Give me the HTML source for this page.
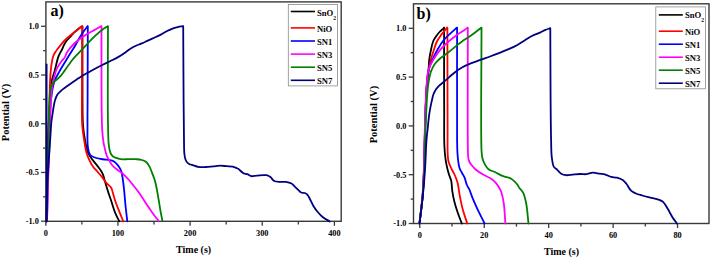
<!DOCTYPE html>
<html><head><meta charset="utf-8"><style>
html,body{margin:0;padding:0;background:#fff;}
body{width:711px;height:260px;overflow:hidden;}
svg{display:block;}
text{font-family:"Liberation Serif",serif;font-weight:bold;fill:#000;}
.tk{font-size:8.3px;}
.lg{font-size:8.6px;}
.ax{font-size:10px;}
.ay{font-size:10.5px;}
.pl{font-size:16px;}
</style></head><body>
<svg width="711" height="260" viewBox="0 0 711 260">
<rect width="711" height="260" fill="#fff"/>
<line x1="45.8" y1="221.3" x2="45.8" y2="225.8" stroke="#3a3a3a" stroke-width="1.3"/>
<line x1="117.95" y1="221.3" x2="117.95" y2="225.8" stroke="#3a3a3a" stroke-width="1.3"/>
<line x1="190.10000000000002" y1="221.3" x2="190.10000000000002" y2="225.8" stroke="#3a3a3a" stroke-width="1.3"/>
<line x1="262.25" y1="221.3" x2="262.25" y2="225.8" stroke="#3a3a3a" stroke-width="1.3"/>
<line x1="334.40000000000003" y1="221.3" x2="334.40000000000003" y2="225.8" stroke="#3a3a3a" stroke-width="1.3"/>
<line x1="81.875" y1="221.3" x2="81.875" y2="224.4" stroke="#3a3a3a" stroke-width="1.3"/>
<line x1="154.025" y1="221.3" x2="154.025" y2="224.4" stroke="#3a3a3a" stroke-width="1.3"/>
<line x1="226.175" y1="221.3" x2="226.175" y2="224.4" stroke="#3a3a3a" stroke-width="1.3"/>
<line x1="298.325" y1="221.3" x2="298.325" y2="224.4" stroke="#3a3a3a" stroke-width="1.3"/>
<line x1="41.1" y1="26.299999999999997" x2="45.9" y2="26.299999999999997" stroke="#3a3a3a" stroke-width="1.3"/>
<line x1="41.1" y1="75.025" x2="45.9" y2="75.025" stroke="#3a3a3a" stroke-width="1.3"/>
<line x1="41.1" y1="123.75" x2="45.9" y2="123.75" stroke="#3a3a3a" stroke-width="1.3"/>
<line x1="41.1" y1="172.475" x2="45.9" y2="172.475" stroke="#3a3a3a" stroke-width="1.3"/>
<line x1="41.1" y1="221.2" x2="45.9" y2="221.2" stroke="#3a3a3a" stroke-width="1.3"/>
<line x1="43.1" y1="50.662499999999994" x2="45.9" y2="50.662499999999994" stroke="#3a3a3a" stroke-width="1.3"/>
<line x1="43.1" y1="99.3875" x2="45.9" y2="99.3875" stroke="#3a3a3a" stroke-width="1.3"/>
<line x1="43.1" y1="148.1125" x2="45.9" y2="148.1125" stroke="#3a3a3a" stroke-width="1.3"/>
<line x1="43.1" y1="196.8375" x2="45.9" y2="196.8375" stroke="#3a3a3a" stroke-width="1.3"/>
<text x="45.8" y="235.8" text-anchor="middle" class="tk">0</text>
<text x="117.95" y="235.8" text-anchor="middle" class="tk">100</text>
<text x="190.10000000000002" y="235.8" text-anchor="middle" class="tk">200</text>
<text x="262.25" y="235.8" text-anchor="middle" class="tk">300</text>
<text x="334.40000000000003" y="235.8" text-anchor="middle" class="tk">400</text>
<text x="38.8" y="29.099999999999998" text-anchor="end" class="tk">1.0</text>
<text x="38.8" y="77.825" text-anchor="end" class="tk">0.5</text>
<text x="38.8" y="126.55" text-anchor="end" class="tk">0.0</text>
<text x="38.8" y="175.275" text-anchor="end" class="tk">-0.5</text>
<text x="38.8" y="224.0" text-anchor="end" class="tk">-1.0</text>
<rect x="45.9" y="1.9" width="295.3" height="219.4" fill="none" stroke="#3a3a3a" stroke-width="1.4"/>
<path d="M46.50,221.30 C46.67,207.53 46.75,193.66 47.00,180.00 C47.25,166.56 47.54,152.37 48.00,140.00 C48.40,129.28 49.02,118.28 49.50,110.00 C49.84,104.14 50.12,99.89 50.50,95.00 C50.86,90.30 50.91,85.48 51.70,81.20 C52.41,77.34 53.77,74.20 54.80,70.40 C55.94,66.21 57.05,60.35 58.20,57.10 C58.90,55.13 59.62,53.79 60.30,52.50 C60.81,51.52 61.28,51.00 61.80,50.00 C62.51,48.64 63.12,46.63 64.00,45.00 C64.91,43.30 66.05,41.46 67.20,40.00 C68.23,38.70 69.40,37.78 70.50,36.60 C71.66,35.36 72.75,33.93 74.00,32.70 C75.25,31.46 76.66,30.26 78.00,29.20 C79.26,28.21 80.53,27.40 81.80,26.50 M81.80,26.50 C82.03,26.50 82.27,26.50 82.50,26.50 M82.50,26.50 C82.50,51.00 82.32,81.95 82.50,100.00 C82.61,110.53 82.45,117.74 83.00,125.00 C83.43,130.65 84.12,135.23 85.00,140.00 C85.82,144.43 86.49,149.16 88.00,152.70 C89.23,155.59 90.97,157.58 92.70,160.00 C94.54,162.58 97.05,165.24 98.80,167.70 C100.31,169.81 101.68,171.57 102.70,173.80 C103.78,176.15 104.23,178.93 105.00,181.50 C105.77,184.07 106.65,187.08 107.30,189.20 C107.76,190.69 108.01,191.51 108.50,193.00 C109.21,195.14 110.22,197.91 111.20,200.80 C112.41,204.39 113.73,209.28 115.20,212.90 C116.46,216.00 117.93,218.50 119.30,221.30" fill="none" stroke="#000000" stroke-width="1.8" stroke-linejoin="round" stroke-linecap="round"/>
<path d="M46.50,221.30 C46.83,204.20 47.14,186.04 47.50,170.00 C47.82,155.84 48.14,142.38 48.50,130.00 C48.81,119.28 49.22,108.99 49.50,100.00 C49.73,92.66 49.74,86.16 50.10,80.00 C50.41,74.69 50.76,69.53 51.40,65.20 C51.91,61.75 52.46,58.35 53.30,56.00 C53.87,54.41 54.60,53.36 55.30,52.20 C55.94,51.15 56.52,50.36 57.30,49.30 C58.29,47.95 59.55,46.30 60.80,44.80 C62.13,43.20 63.58,41.52 65.10,40.00 C66.62,38.48 68.27,37.06 69.90,35.70 C71.50,34.36 73.22,33.14 74.80,31.90 C76.28,30.74 77.78,29.51 79.10,28.50 C80.21,27.65 81.17,26.97 82.20,26.20 M82.20,26.20 C82.13,47.47 81.98,71.90 82.00,90.00 C82.02,103.40 81.57,115.71 82.20,125.00 C82.62,131.19 83.43,135.56 84.20,140.40 C84.89,144.74 85.48,149.12 86.50,152.70 C87.33,155.61 88.40,158.05 89.50,160.40 C90.49,162.51 91.42,164.37 92.70,166.20 C94.01,168.08 95.77,169.72 97.30,171.50 C98.84,173.29 100.40,175.01 101.90,176.90 C103.47,178.87 104.88,181.24 106.50,183.10 C107.99,184.81 110.16,186.03 111.20,187.70 C112.09,189.13 112.15,190.53 112.70,192.30 C113.44,194.70 114.20,197.82 115.20,200.80 C116.35,204.21 117.92,208.11 119.30,211.60 C120.62,214.93 121.97,218.07 123.30,221.30" fill="none" stroke="#ff0000" stroke-width="1.8" stroke-linejoin="round" stroke-linecap="round"/>
<path d="M47.00,221.30 C47.40,204.20 47.75,186.04 48.20,170.00 C48.60,155.84 48.99,142.37 49.50,130.00 C49.94,119.28 49.97,108.83 51.00,100.00 C51.83,92.92 52.81,85.96 54.50,81.00 C55.68,77.53 57.45,75.10 58.80,72.60 C59.92,70.53 60.84,68.96 62.00,67.00 C63.31,64.79 64.88,62.34 66.30,60.00 C67.71,57.67 69.08,55.31 70.50,53.00 C71.91,50.71 73.28,48.75 74.80,46.20 C76.69,43.04 78.73,38.80 80.90,35.40 C82.97,32.15 85.30,29.27 87.50,26.20 M87.50,26.20 C87.60,26.20 87.70,26.20 87.80,26.20 M87.80,26.20 C87.73,50.80 87.66,81.90 87.60,100.00 C87.56,110.54 87.43,116.84 87.50,125.00 C87.57,132.83 87.07,142.60 88.00,148.00 C88.52,151.06 88.96,153.40 90.30,155.00 C91.43,156.35 93.21,156.85 94.90,157.50 C96.75,158.22 99.06,158.63 101.00,159.00 C102.74,159.33 104.32,159.47 106.00,159.70 C107.72,159.94 109.73,159.99 111.20,160.40 C112.36,160.72 113.24,161.07 114.20,161.70 C115.29,162.41 116.33,163.46 117.30,164.60 C118.41,165.90 119.68,167.82 120.40,169.20 C120.93,170.22 121.17,170.85 121.50,172.00 C121.99,173.70 122.31,175.98 122.70,178.50 C123.23,181.94 123.77,186.66 124.20,190.80 C124.64,195.00 124.84,198.91 125.30,203.50 C125.84,208.94 126.63,215.37 127.30,221.30" fill="none" stroke="#0000ff" stroke-width="1.8" stroke-linejoin="round" stroke-linecap="round"/>
<path d="M47.00,221.30 C47.50,204.20 47.96,186.04 48.50,170.00 C48.97,155.84 49.56,142.38 50.00,130.00 C50.38,119.28 50.46,108.40 51.00,100.00 C51.39,93.89 51.91,87.77 52.50,84.20 C52.81,82.34 53.04,81.74 53.50,80.00 C54.26,77.12 55.31,71.90 56.80,68.60 C58.08,65.76 60.00,63.27 61.50,61.20 C62.67,59.59 63.98,58.59 64.90,57.10 C65.81,55.62 65.90,54.07 67.00,52.30 C68.67,49.60 72.07,45.66 74.80,43.00 C77.26,40.61 80.36,38.40 82.50,36.90 C83.92,35.90 84.94,35.36 86.20,34.60 C87.50,33.82 88.77,33.09 90.20,32.30 C91.81,31.40 93.63,30.49 95.40,29.50 C97.26,28.46 99.20,27.30 101.10,26.20 M101.10,26.20 C101.23,26.20 101.37,26.20 101.50,26.20 M101.50,26.20 C101.50,47.47 101.34,71.20 101.50,90.00 C101.63,104.88 101.62,120.50 102.20,130.00 C102.52,135.28 102.94,138.80 103.50,142.30 C103.93,144.94 104.48,147.00 105.00,149.20 C105.48,151.22 105.82,153.17 106.50,155.00 C107.16,156.77 108.09,158.35 109.00,160.00 C109.92,161.68 110.73,163.46 112.00,165.00 C113.36,166.65 115.29,168.14 117.00,169.50 C118.63,170.79 120.47,171.74 122.00,173.00 C123.46,174.21 124.77,175.67 126.00,176.90 C127.08,177.98 127.97,178.84 129.00,180.00 C130.20,181.36 131.30,182.82 132.70,184.60 C134.62,187.03 137.22,190.22 139.40,193.30 C141.73,196.59 143.92,200.39 146.20,203.80 C148.42,207.11 150.72,210.47 152.90,213.50 C154.87,216.24 156.77,218.63 158.70,221.20" fill="none" stroke="#ff00ff" stroke-width="1.8" stroke-linejoin="round" stroke-linecap="round"/>
<path d="M46.50,221.30 C46.83,207.53 47.18,194.42 47.50,180.00 C47.85,164.13 48.11,144.55 48.50,130.00 C48.80,118.73 49.12,107.22 49.50,100.00 C49.72,95.91 49.73,93.12 50.20,90.40 C50.56,88.32 50.97,86.50 51.70,85.00 C52.31,83.76 53.11,82.83 54.00,81.90 C54.91,80.96 56.04,80.35 57.10,79.40 C58.33,78.29 59.67,77.01 60.90,75.60 C62.25,74.04 63.52,72.16 64.80,70.40 C66.09,68.63 67.31,66.77 68.60,65.00 C69.88,63.24 71.18,61.44 72.50,59.80 C73.75,58.25 75.02,56.79 76.30,55.40 C77.52,54.07 78.56,53.10 80.00,51.60 C82.05,49.47 84.88,46.42 87.40,43.80 C90.01,41.09 92.71,38.10 95.40,35.60 C97.91,33.27 100.72,30.88 103.00,29.20 C104.71,27.94 106.13,27.20 107.70,26.20 M107.70,26.20 C107.80,26.20 107.90,26.20 108.00,26.20 M108.00,26.20 C107.93,50.80 107.73,80.84 107.80,100.00 C107.84,112.21 107.91,122.06 108.10,130.00 C108.23,135.23 108.27,139.34 108.60,143.00 C108.84,145.70 109.11,148.01 109.60,150.00 C109.98,151.54 110.37,152.87 111.00,154.00 C111.55,154.98 112.19,155.86 113.00,156.50 C113.80,157.12 114.74,157.39 115.80,157.80 C117.13,158.31 118.65,158.94 120.40,159.20 C122.62,159.53 125.53,159.20 128.10,159.20 C130.67,159.20 133.39,159.04 135.80,159.20 C137.96,159.34 140.05,159.43 141.90,160.00 C143.59,160.52 145.23,161.19 146.50,162.30 C147.82,163.46 148.71,165.26 149.60,166.90 C150.52,168.59 151.15,170.43 151.90,172.30 C152.69,174.29 153.64,176.89 154.20,178.50 C154.55,179.51 154.71,179.94 155.00,181.00 C155.50,182.82 156.14,185.73 156.70,188.50 C157.38,191.92 158.05,196.17 158.70,200.00 C159.35,203.83 159.94,207.83 160.60,211.50 C161.21,214.88 161.87,217.97 162.50,221.20" fill="none" stroke="#008000" stroke-width="1.8" stroke-linejoin="round" stroke-linecap="round"/>
<path d="M46.50,221.30 C46.83,207.53 46.92,192.66 47.50,180.00 C47.99,169.20 48.91,158.99 49.50,150.00 C49.98,142.66 50.44,135.20 50.80,130.00 C51.03,126.67 51.11,124.48 51.40,121.80 C51.68,119.21 52.12,116.74 52.50,114.20 C52.88,111.64 53.26,108.93 53.70,106.50 C54.10,104.29 54.38,102.20 55.00,100.20 C55.60,98.27 56.25,96.32 57.30,94.70 C58.33,93.13 59.76,91.89 61.20,90.60 C62.71,89.24 64.49,88.06 66.20,86.80 C67.96,85.50 69.71,84.22 71.60,82.90 C73.63,81.48 76.03,79.91 78.00,78.60 C79.68,77.48 80.83,76.63 82.70,75.50 C85.31,73.92 89.02,71.95 92.30,70.20 C95.69,68.39 99.49,66.43 102.70,64.80 C105.45,63.41 107.84,62.28 110.40,61.00 C112.97,59.72 115.71,58.46 118.10,57.10 C120.29,55.85 122.18,54.58 124.20,53.20 C126.28,51.78 128.29,50.01 130.40,48.70 C132.40,47.46 134.57,46.37 136.50,45.50 C138.15,44.76 139.54,44.40 141.20,43.70 C143.11,42.90 145.33,41.81 147.30,40.90 C149.16,40.04 150.74,39.30 152.70,38.40 C155.04,37.33 157.95,36.16 160.40,34.90 C162.74,33.69 165.03,32.07 167.10,31.00 C168.81,30.11 170.20,29.43 171.90,28.80 C173.72,28.12 175.78,27.54 177.70,27.10 C179.54,26.68 181.37,26.50 183.20,26.20 M183.20,26.20 C183.33,50.80 183.44,79.14 183.60,100.00 C183.72,115.36 183.81,130.09 184.00,140.00 C184.11,145.86 183.99,150.42 184.40,154.00 C184.66,156.27 184.93,157.98 185.50,159.50 C185.94,160.69 186.49,161.70 187.20,162.50 C187.85,163.23 188.58,163.75 189.50,164.20 C190.59,164.73 192.05,164.88 193.40,165.30 C194.90,165.77 196.31,166.59 198.10,166.90 C200.33,167.28 203.24,167.10 205.80,167.00 C208.37,166.90 211.02,166.52 213.50,166.30 C215.81,166.09 217.97,165.72 220.20,165.70 C222.43,165.68 224.75,166.05 226.90,166.20 C228.90,166.34 230.97,166.22 232.70,166.60 C234.18,166.92 235.64,167.64 236.70,168.10 C237.43,168.42 237.79,168.52 238.50,169.00 C239.79,169.86 241.84,172.46 243.50,173.30 C244.77,173.95 246.05,173.74 247.30,174.20 C248.62,174.69 249.73,175.93 251.20,176.20 C252.88,176.51 254.75,175.76 256.90,175.60 C259.68,175.40 264.06,174.69 266.50,175.20 C268.14,175.54 269.18,176.22 270.40,177.10 C271.77,178.09 272.64,180.20 274.20,181.00 C275.82,181.83 278.06,181.75 280.00,181.90 C281.93,182.05 283.89,181.64 285.80,181.90 C287.73,182.17 290.01,182.66 291.50,183.50 C292.70,184.17 293.27,185.12 294.30,186.10 C295.61,187.35 297.42,189.24 298.70,190.40 C299.63,191.25 300.23,192.06 301.20,192.50 C302.21,192.95 303.66,192.61 304.70,193.00 C305.68,193.37 306.51,193.89 307.30,194.70 C308.30,195.73 309.00,197.37 309.90,199.00 C311.02,201.03 312.08,203.81 313.40,206.00 C314.69,208.13 316.11,210.13 317.70,212.00 C319.28,213.86 320.95,215.65 322.90,217.20 C324.96,218.83 327.50,220.07 329.80,221.50" fill="none" stroke="#000080" stroke-width="1.8" stroke-linejoin="round" stroke-linecap="round"/>
<path d="M46.60,221.30 C46.60,169.03 46.60,116.77 46.60,64.50" fill="none" stroke="#000080" stroke-width="1.8" stroke-linejoin="round" stroke-linecap="round"/>
<rect x="288.3" y="4.4" width="49.3" height="81.5" fill="#fff" stroke="#8a8a8a" stroke-width="0.8"/>
<line x1="290.8" y1="11.5" x2="315" y2="11.5" stroke="#000000" stroke-width="1.6"/>
<text x="317" y="15.5" class="lg">SnO<tspan font-size="5.6px" dy="4.1">2</tspan></text>
<line x1="290.8" y1="27.9" x2="315" y2="27.9" stroke="#ff0000" stroke-width="1.6"/>
<text x="317" y="31.5" class="lg">NiO</text>
<line x1="290.8" y1="41" x2="315" y2="41" stroke="#0000ff" stroke-width="1.6"/>
<text x="317" y="44.6" class="lg">SN1</text>
<line x1="290.8" y1="54.1" x2="315" y2="54.1" stroke="#ff00ff" stroke-width="1.6"/>
<text x="317" y="57.7" class="lg">SN3</text>
<line x1="290.8" y1="67.2" x2="315" y2="67.2" stroke="#008000" stroke-width="1.6"/>
<text x="317" y="70.8" class="lg">SN5</text>
<line x1="290.8" y1="80.3" x2="315" y2="80.3" stroke="#000080" stroke-width="1.6"/>
<text x="317" y="83.9" class="lg">SN7</text>
<text x="50.6" y="16.2" class="pl">a)</text>
<text x="193.6" y="252.6" text-anchor="middle" class="ax">Time (s)</text>
<text transform="translate(9.3,112.5) rotate(-90)" text-anchor="middle" class="ay">Potential (V)</text>
<line x1="419.8" y1="223.5" x2="419.8" y2="228.0" stroke="#3a3a3a" stroke-width="1.3"/>
<line x1="484.24" y1="223.5" x2="484.24" y2="228.0" stroke="#3a3a3a" stroke-width="1.3"/>
<line x1="548.6800000000001" y1="223.5" x2="548.6800000000001" y2="228.0" stroke="#3a3a3a" stroke-width="1.3"/>
<line x1="613.12" y1="223.5" x2="613.12" y2="228.0" stroke="#3a3a3a" stroke-width="1.3"/>
<line x1="677.56" y1="223.5" x2="677.56" y2="228.0" stroke="#3a3a3a" stroke-width="1.3"/>
<line x1="452.02" y1="223.5" x2="452.02" y2="226.6" stroke="#3a3a3a" stroke-width="1.3"/>
<line x1="516.46" y1="223.5" x2="516.46" y2="226.6" stroke="#3a3a3a" stroke-width="1.3"/>
<line x1="580.9" y1="223.5" x2="580.9" y2="226.6" stroke="#3a3a3a" stroke-width="1.3"/>
<line x1="645.34" y1="223.5" x2="645.34" y2="226.6" stroke="#3a3a3a" stroke-width="1.3"/>
<line x1="408.7" y1="28.30000000000001" x2="413.5" y2="28.30000000000001" stroke="#3a3a3a" stroke-width="1.3"/>
<line x1="408.7" y1="77.10000000000001" x2="413.5" y2="77.10000000000001" stroke="#3a3a3a" stroke-width="1.3"/>
<line x1="408.7" y1="125.9" x2="413.5" y2="125.9" stroke="#3a3a3a" stroke-width="1.3"/>
<line x1="408.7" y1="174.7" x2="413.5" y2="174.7" stroke="#3a3a3a" stroke-width="1.3"/>
<line x1="408.7" y1="223.5" x2="413.5" y2="223.5" stroke="#3a3a3a" stroke-width="1.3"/>
<line x1="410.7" y1="52.70000000000002" x2="413.5" y2="52.70000000000002" stroke="#3a3a3a" stroke-width="1.3"/>
<line x1="410.7" y1="101.5" x2="413.5" y2="101.5" stroke="#3a3a3a" stroke-width="1.3"/>
<line x1="410.7" y1="150.3" x2="413.5" y2="150.3" stroke="#3a3a3a" stroke-width="1.3"/>
<line x1="410.7" y1="199.1" x2="413.5" y2="199.1" stroke="#3a3a3a" stroke-width="1.3"/>
<text x="419.8" y="237.8" text-anchor="middle" class="tk">0</text>
<text x="484.24" y="237.8" text-anchor="middle" class="tk">20</text>
<text x="548.6800000000001" y="237.8" text-anchor="middle" class="tk">40</text>
<text x="613.12" y="237.8" text-anchor="middle" class="tk">60</text>
<text x="677.56" y="237.8" text-anchor="middle" class="tk">80</text>
<text x="406.4" y="31.100000000000012" text-anchor="end" class="tk">1.0</text>
<text x="406.4" y="79.9" text-anchor="end" class="tk">0.5</text>
<text x="406.4" y="128.70000000000002" text-anchor="end" class="tk">0.0</text>
<text x="406.4" y="177.5" text-anchor="end" class="tk">-0.5</text>
<text x="406.4" y="226.3" text-anchor="end" class="tk">-1.0</text>
<rect x="413.5" y="3.8" width="295.5" height="219.7" fill="none" stroke="#3a3a3a" stroke-width="1.4"/>
<path d="M419.50,223.50 C420.57,214.13 421.95,204.54 422.70,195.40 C423.41,186.73 423.64,179.43 424.00,170.00 C424.45,158.18 424.62,142.89 425.00,130.00 C425.36,117.94 425.70,104.23 426.20,95.00 C426.53,88.95 426.86,84.44 427.30,80.00 C427.65,76.44 428.19,73.67 428.50,70.40 C428.83,67.01 428.80,63.35 429.20,60.00 C429.58,56.83 430.16,53.86 430.80,50.80 C431.45,47.70 432.04,44.10 433.10,41.50 C433.95,39.42 435.04,37.87 436.20,36.20 C437.35,34.54 438.70,32.86 440.00,31.50 C441.14,30.31 442.83,29.08 443.50,28.40 C443.80,28.10 443.90,27.93 444.10,27.70 M444.10,27.70 C444.10,48.47 444.06,74.98 444.10,90.00 C444.12,98.51 444.16,102.35 444.20,110.00 C444.25,120.29 443.97,137.08 444.40,146.20 C444.66,151.76 445.02,155.52 445.60,159.60 C446.10,163.08 446.79,166.29 447.50,169.20 C448.11,171.68 448.83,173.96 449.50,176.00 C450.06,177.69 450.76,178.72 451.20,180.60 C451.84,183.36 451.77,187.60 452.30,191.10 C452.83,194.64 453.52,198.19 454.40,201.70 C455.29,205.26 456.40,208.74 457.60,212.30 C458.85,216.00 460.40,219.77 461.80,223.50" fill="none" stroke="#000000" stroke-width="1.8" stroke-linejoin="round" stroke-linecap="round"/>
<path d="M419.50,223.50 C420.57,214.13 421.95,204.54 422.70,195.40 C423.41,186.73 423.64,179.43 424.00,170.00 C424.45,158.18 424.62,142.89 425.00,130.00 C425.36,117.94 425.70,104.23 426.20,95.00 C426.53,88.95 426.86,84.44 427.30,80.00 C427.65,76.44 427.94,73.65 428.50,70.40 C429.09,66.99 429.97,63.19 430.80,60.00 C431.52,57.23 432.20,55.07 433.10,52.30 C434.18,48.99 435.43,44.52 436.90,41.50 C438.07,39.10 439.45,37.25 440.80,35.40 C442.03,33.72 443.51,32.20 444.60,30.80 C445.48,29.68 446.13,28.73 446.90,27.70 M446.90,27.70 C447.07,27.70 447.23,27.70 447.40,27.70 M447.40,27.70 C447.43,48.47 447.46,71.52 447.50,90.00 C447.53,104.80 447.56,118.39 447.60,130.00 C447.63,138.96 447.39,148.05 447.70,153.80 C447.88,157.08 447.88,159.06 448.50,161.50 C449.10,163.88 450.28,166.11 451.30,168.30 C452.29,170.44 453.50,172.26 454.50,174.50 C455.62,177.01 456.77,179.62 457.60,182.70 C458.60,186.43 458.86,191.03 459.70,195.40 C460.60,200.11 461.61,205.26 462.90,210.00 C464.16,214.62 465.83,219.00 467.30,223.50" fill="none" stroke="#ff0000" stroke-width="1.8" stroke-linejoin="round" stroke-linecap="round"/>
<path d="M419.50,223.50 C420.57,214.13 421.95,204.54 422.70,195.40 C423.41,186.73 423.64,179.43 424.00,170.00 C424.45,158.18 424.62,142.89 425.00,130.00 C425.36,117.94 425.70,104.23 426.20,95.00 C426.53,88.95 426.86,84.44 427.30,80.00 C427.65,76.44 427.72,73.62 428.50,70.40 C429.33,66.96 430.81,63.46 432.30,60.00 C433.86,56.39 435.73,52.60 437.70,49.20 C439.58,45.95 441.62,42.67 443.80,40.00 C445.75,37.62 447.86,35.83 450.00,33.80 C452.19,31.73 454.53,29.73 456.80,27.70 M456.80,27.70 C456.90,27.70 457.00,27.70 457.10,27.70 M457.10,27.70 C457.10,65.13 456.87,121.56 457.10,140.00 C457.18,146.03 457.19,148.29 457.40,152.00 C457.58,155.22 457.82,158.20 458.20,161.00 C458.54,163.49 458.80,165.91 459.50,168.00 C460.12,169.86 461.14,171.37 462.00,173.00 C462.84,174.60 463.84,175.92 464.60,177.70 C465.51,179.83 466.02,182.94 466.90,185.00 C467.60,186.63 468.43,187.54 469.20,189.20 C470.23,191.43 471.08,194.34 472.30,197.30 C473.82,200.99 475.74,205.40 477.70,209.60 C479.81,214.12 482.30,218.87 484.60,223.50" fill="none" stroke="#0000ff" stroke-width="1.8" stroke-linejoin="round" stroke-linecap="round"/>
<path d="M419.50,223.50 C420.50,214.13 421.78,204.54 422.50,195.40 C423.18,186.73 423.44,179.43 423.80,170.00 C424.25,158.18 424.42,142.89 424.80,130.00 C425.16,117.94 425.53,104.23 426.00,95.00 C426.31,88.95 426.55,84.44 427.00,80.00 C427.36,76.44 427.37,73.59 428.30,70.40 C429.31,66.93 431.12,63.41 433.10,60.00 C435.23,56.33 438.09,52.40 440.80,49.20 C443.25,46.30 445.86,43.85 448.50,41.50 C451.00,39.27 453.60,37.26 456.20,35.40 C458.70,33.61 461.74,31.94 463.80,30.50 C465.28,29.47 466.27,28.63 467.50,27.70 M467.50,27.70 C467.60,27.70 467.70,27.70 467.80,27.70 M467.80,27.70 C467.83,68.47 467.48,133.40 467.90,150.00 C468.01,154.25 467.92,155.81 468.30,158.00 C468.57,159.58 468.94,160.80 469.50,162.00 C470.02,163.12 470.67,163.95 471.50,165.00 C472.54,166.32 473.79,167.80 475.40,169.20 C477.46,171.00 480.48,173.03 483.10,174.60 C485.61,176.11 488.63,177.08 490.80,178.50 C492.61,179.68 494.03,180.82 495.40,182.30 C496.84,183.86 498.16,185.89 499.20,187.70 C500.15,189.36 500.83,190.67 501.50,192.70 C502.45,195.57 503.19,199.33 503.80,203.50 C504.62,209.13 504.87,216.83 505.40,223.50" fill="none" stroke="#ff00ff" stroke-width="1.8" stroke-linejoin="round" stroke-linecap="round"/>
<path d="M419.50,223.50 C420.57,214.13 421.89,204.54 422.70,195.40 C423.47,186.73 423.86,179.43 424.30,170.00 C424.85,158.18 424.99,142.89 425.50,130.00 C425.97,117.94 426.53,103.68 427.20,95.00 C427.60,89.84 427.87,86.65 428.50,82.70 C429.09,78.97 429.68,75.13 430.80,71.90 C431.79,69.05 433.06,66.42 434.60,64.20 C436.01,62.18 437.84,60.51 439.50,59.00 C440.98,57.65 442.49,56.62 444.00,55.50 C445.49,54.39 446.77,53.64 448.50,52.30 C451.06,50.33 455.18,46.56 457.70,44.60 C459.37,43.30 460.46,42.57 462.00,41.50 C463.76,40.28 465.67,39.09 467.70,37.70 C470.08,36.07 473.05,34.07 475.40,32.30 C477.47,30.74 479.20,29.23 481.10,27.70 M481.10,27.70 C481.23,27.70 481.37,27.70 481.50,27.70 M481.50,27.70 C481.50,68.47 480.65,133.65 481.50,150.00 C481.71,154.11 481.74,155.32 482.30,157.70 C482.82,159.89 483.58,161.89 484.60,163.80 C485.64,165.73 486.78,167.80 488.50,169.20 C490.33,170.69 493.05,171.18 495.40,172.30 C497.91,173.50 500.49,175.16 503.10,176.20 C505.62,177.21 508.66,177.36 510.80,178.50 C512.65,179.49 514.17,181.09 515.40,182.30 C516.35,183.23 517.05,184.07 517.70,185.00 C518.30,185.87 518.53,186.69 519.20,187.70 C520.16,189.14 522.02,190.59 523.10,192.70 C524.53,195.51 525.36,199.31 526.20,203.50 C527.32,209.11 527.73,216.83 528.50,223.50" fill="none" stroke="#008000" stroke-width="1.8" stroke-linejoin="round" stroke-linecap="round"/>
<path d="M419.50,223.50 C420.63,214.13 421.97,204.54 422.90,195.40 C423.78,186.73 424.41,178.82 425.00,170.00 C425.64,160.42 425.91,147.64 426.50,140.00 C426.87,135.26 427.27,132.51 427.70,128.50 C428.17,124.09 428.62,118.75 429.20,114.60 C429.68,111.21 430.27,108.06 430.80,105.40 C431.20,103.36 431.58,101.78 432.00,100.00 C432.41,98.25 432.67,96.50 433.30,94.80 C433.95,93.03 434.87,91.15 435.90,89.60 C436.86,88.14 438.00,86.90 439.20,85.70 C440.40,84.50 441.80,83.50 443.10,82.40 C444.40,81.30 445.60,80.30 447.00,79.10 C448.64,77.70 450.53,75.98 452.30,74.50 C454.03,73.05 455.76,71.55 457.50,70.30 C459.12,69.14 460.48,68.24 462.40,67.20 C464.91,65.84 468.34,64.36 471.40,63.10 C474.48,61.83 477.67,60.71 480.80,59.60 C483.87,58.51 486.91,57.60 490.00,56.50 C493.18,55.37 496.41,54.16 499.60,52.90 C502.81,51.63 506.19,50.25 509.20,48.90 C511.93,47.68 514.37,46.59 516.90,45.20 C519.51,43.77 522.03,41.97 524.60,40.40 C527.16,38.84 529.68,37.12 532.30,35.80 C534.82,34.53 537.66,33.66 540.00,32.60 C542.00,31.69 543.71,30.65 545.50,29.90 C547.13,29.21 548.70,28.77 550.30,28.20 M550.30,28.20 C550.40,52.13 550.43,79.54 550.60,100.00 C550.73,115.27 550.82,129.42 551.10,140.00 C551.28,146.96 551.17,152.40 551.80,157.30 C552.27,160.99 552.61,164.76 553.90,166.90 C554.77,168.35 556.15,168.74 557.30,169.80 C558.58,170.98 559.71,172.80 561.20,173.70 C562.62,174.56 564.25,175.01 566.00,175.20 C568.03,175.42 570.39,174.79 572.70,174.60 C575.18,174.39 578.01,174.05 580.40,174.00 C582.47,173.96 584.21,174.39 586.20,174.20 C588.37,174.00 590.66,172.78 592.90,172.70 C595.13,172.62 597.45,173.37 599.60,173.70 C601.60,174.00 603.50,174.08 605.40,174.60 C607.36,175.13 609.24,176.38 611.20,176.90 C613.08,177.40 615.02,177.20 616.90,177.70 C618.86,178.22 621.10,178.95 622.70,180.00 C624.13,180.94 625.03,182.07 626.20,183.50 C627.72,185.35 629.06,188.73 630.80,190.40 C632.20,191.74 633.66,192.39 635.40,193.20 C637.42,194.14 639.82,194.78 642.30,195.50 C645.13,196.32 648.64,197.08 651.50,197.80 C653.99,198.43 656.45,198.83 658.50,199.60 C660.23,200.25 661.71,200.67 663.10,201.90 C664.86,203.46 666.21,206.38 667.70,208.80 C669.28,211.37 670.71,214.37 672.30,216.90 C673.78,219.25 675.37,221.30 676.90,223.50" fill="none" stroke="#000080" stroke-width="1.8" stroke-linejoin="round" stroke-linecap="round"/>
<rect x="655.8" y="6.9" width="49.7" height="81.9" fill="#fff" stroke="#8a8a8a" stroke-width="0.8"/>
<line x1="658.8" y1="14.9" x2="682.8" y2="14.9" stroke="#000000" stroke-width="1.6"/>
<text x="685" y="18.0" class="lg">SnO<tspan font-size="5.6px" dy="4.1">2</tspan></text>
<line x1="658.8" y1="31.2" x2="682.8" y2="31.2" stroke="#ff0000" stroke-width="1.6"/>
<text x="685" y="34.8" class="lg">NiO</text>
<line x1="658.8" y1="44.2" x2="682.8" y2="44.2" stroke="#0000ff" stroke-width="1.6"/>
<text x="685" y="47.8" class="lg">SN1</text>
<line x1="658.8" y1="57.2" x2="682.8" y2="57.2" stroke="#ff00ff" stroke-width="1.6"/>
<text x="685" y="60.8" class="lg">SN3</text>
<line x1="658.8" y1="70.2" x2="682.8" y2="70.2" stroke="#008000" stroke-width="1.6"/>
<text x="685" y="73.8" class="lg">SN5</text>
<line x1="658.8" y1="83.2" x2="682.8" y2="83.2" stroke="#000080" stroke-width="1.6"/>
<text x="685" y="86.8" class="lg">SN7</text>
<text x="416.6" y="19.2" class="pl">b)</text>
<text x="561.5" y="254.6" text-anchor="middle" class="ax">Time (s)</text>
<text transform="translate(377,114.6) rotate(-90)" text-anchor="middle" class="ay">Potential (V)</text>
</svg></body></html>
